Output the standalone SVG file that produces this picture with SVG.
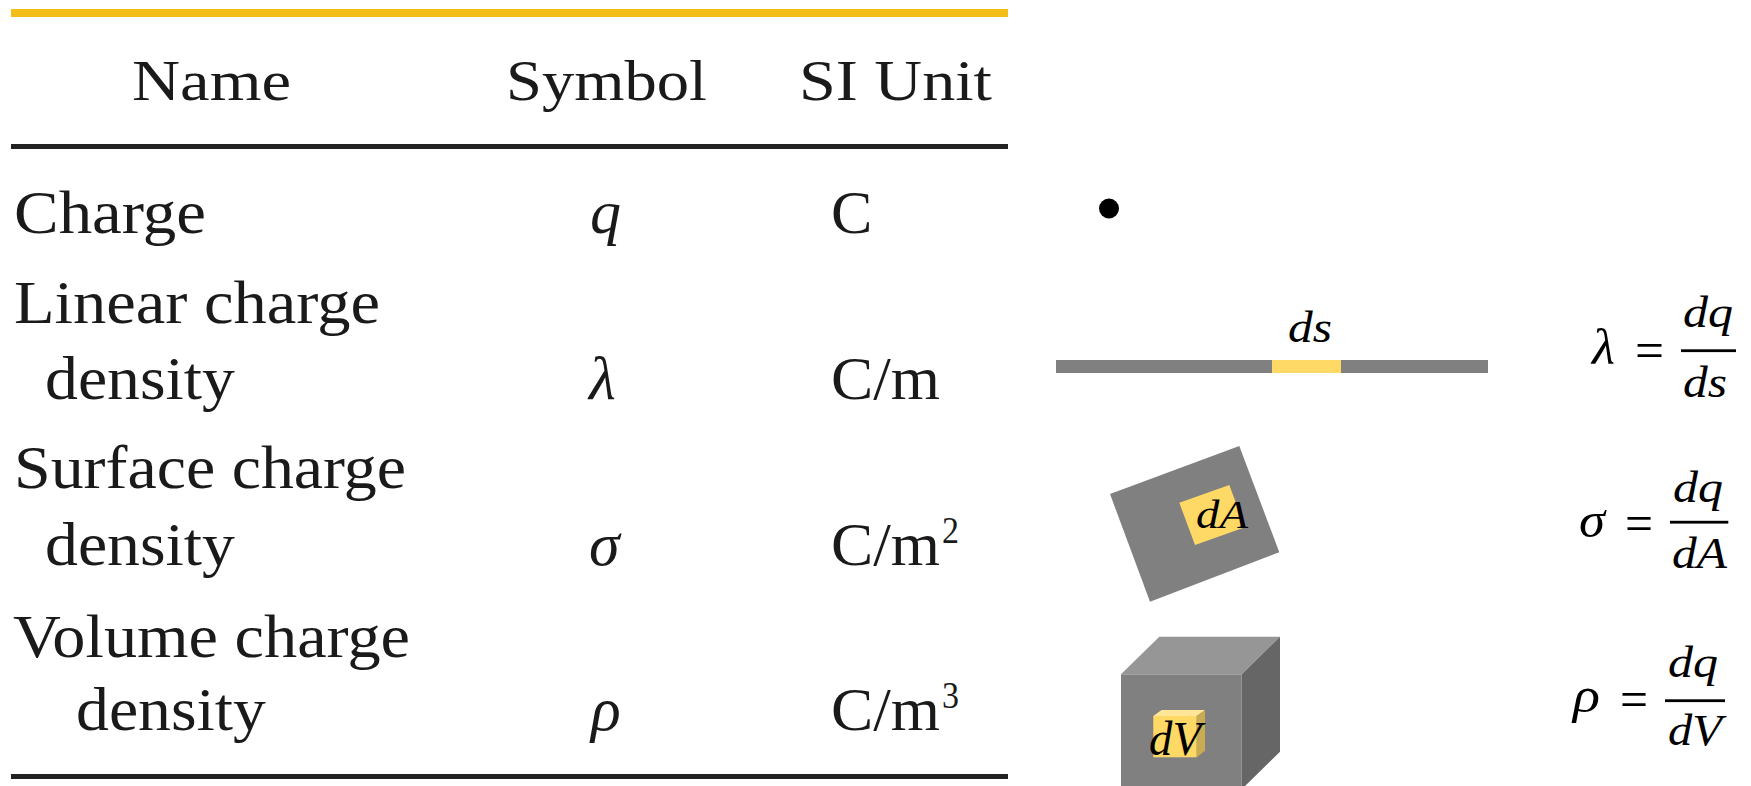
<svg xmlns="http://www.w3.org/2000/svg" width="1751" height="786" viewBox="0 0 1751 786">
  <style>
    .t { font-family: "Liberation Serif", "Times New Roman", serif; font-size: 62px; fill: #1a1a1a; }
    .h { font-family: "Liberation Serif", "Times New Roman", serif; font-size: 58px; fill: #1a1a1a; }
    .ti { font-family: "Liberation Serif", "Times New Roman", serif; font-size: 62px; font-style: italic; fill: #1a1a1a; }
    .sup { font-family: "Liberation Serif", "Times New Roman", serif; font-size: 38px; fill: #1a1a1a; }
    .m { font-family: "Liberation Serif", "Times New Roman", serif; font-size: 45px; font-style: italic; fill: #000; }
    .g { font-family: "Liberation Serif", "Times New Roman", serif; font-size: 50px; font-style: italic; fill: #000; }
    .eq { font-family: "Liberation Serif", "Times New Roman", serif; font-size: 52px; fill: #000; }
    .gray { fill: #808080; }
    .yel { fill: #FFD966; }
  </style>
  <rect width="1751" height="786" fill="#ffffff"/>

  <g id="table">
    <rect x="11" y="9" width="997" height="8" fill="#F3BE19"/>
    <text class="h" x="132" y="100" textLength="159" lengthAdjust="spacingAndGlyphs">Name</text>
    <text class="h" x="506" y="100" textLength="201" lengthAdjust="spacingAndGlyphs">Symbol</text>
    <text class="h" x="799" y="100" textLength="193" lengthAdjust="spacingAndGlyphs">SI Unit</text>
    <rect x="11" y="144" width="997" height="5" fill="#222222"/>

    <text class="t" x="14" y="233" textLength="192" lengthAdjust="spacingAndGlyphs">Charge</text>
    <text class="ti" x="590" y="233">q</text>
    <text class="t" x="831" y="233">C</text>

    <text class="t" x="14" y="323" textLength="366" lengthAdjust="spacingAndGlyphs">Linear charge</text>
    <text class="t" x="45" y="399" textLength="190" lengthAdjust="spacingAndGlyphs">density</text>
    <text class="ti" x="589" y="399">λ</text>
    <text class="t" x="831" y="399" textLength="109" lengthAdjust="spacingAndGlyphs">C/m</text>

    <text class="t" x="14" y="488" textLength="392" lengthAdjust="spacingAndGlyphs">Surface charge</text>
    <text class="t" x="45" y="565" textLength="190" lengthAdjust="spacingAndGlyphs">density</text>
    <text class="ti" x="589" y="565">σ</text>
    <text class="t" x="831" y="565" textLength="109" lengthAdjust="spacingAndGlyphs">C/m</text>
    <text class="sup" x="942" y="543" textLength="17" lengthAdjust="spacingAndGlyphs">2</text>

    <text class="t" x="13" y="657" textLength="397" lengthAdjust="spacingAndGlyphs">Volume charge</text>
    <text class="t" x="76" y="730" textLength="190" lengthAdjust="spacingAndGlyphs">density</text>
    <text class="ti" x="591" y="730">ρ</text>
    <text class="t" x="831" y="730" textLength="109" lengthAdjust="spacingAndGlyphs">C/m</text>
    <text class="sup" x="942" y="708" textLength="17" lengthAdjust="spacingAndGlyphs">3</text>
    <rect x="11" y="774" width="997" height="5" fill="#222222"/>
  </g>

  <g id="point-charge">
    <circle cx="1109" cy="208.5" r="10" fill="#000"/>
  </g>

  <g id="line-charge">
    <rect class="gray" x="1056" y="360" width="432" height="13"/>
    <rect class="yel" x="1272" y="360" width="69" height="13"/>
    <text class="m" x="1288" y="342" textLength="44" lengthAdjust="spacingAndGlyphs">ds</text>
  </g>

  <g id="surface-charge">
    <polygon class="gray" points="1110,494 1239.3,446 1279.3,552.3 1150,601.7"/>
    <polygon class="yel" points="1179.3,502.7 1229.3,485 1245,527.3 1195,545"/>
    <text class="m" x="1196" y="528" style="font-size:40px" textLength="52" lengthAdjust="spacingAndGlyphs">dA</text>
  </g>

  <g id="volume-charge">
    <rect class="gray" x="1121" y="674.3" width="120.7" height="115"/>
    <polygon points="1121,674.3 1159.3,636.7 1280,636.7 1241.7,674.3" fill="#969696"/>
    <polygon points="1241.7,674.3 1280,636.7 1280,751.7 1241.7,789.3" fill="#666666"/>
    <rect class="yel" x="1153.3" y="716" width="43.4" height="41.3"/>
    <polygon points="1153.3,716 1161.6,710 1205,710 1196.7,716" fill="#FFE699"/>
    <polygon points="1196.7,716 1205,710 1205,750.7 1196.7,757.3" fill="#C9AB52"/>
    <text class="m" x="1149" y="755" style="font-size:48px" textLength="52" lengthAdjust="spacingAndGlyphs">dV</text>
  </g>

  <g id="formula-lambda">
    <text class="g" x="1592" y="364" textLength="23" lengthAdjust="spacingAndGlyphs">λ</text>
    <text class="eq" x="1635" y="368" textLength="29" lengthAdjust="spacingAndGlyphs">=</text>
    <text class="m" x="1683" y="327" textLength="50" lengthAdjust="spacingAndGlyphs">dq</text>
    <rect x="1681" y="349.3" width="55" height="2.8" fill="#000"/>
    <text class="m" x="1683" y="397" textLength="44" lengthAdjust="spacingAndGlyphs">ds</text>
  </g>

  <g id="formula-sigma">
    <text class="g" x="1579" y="537" textLength="26" lengthAdjust="spacingAndGlyphs">σ</text>
    <text class="eq" x="1625" y="541" textLength="28" lengthAdjust="spacingAndGlyphs">=</text>
    <text class="m" x="1673" y="502" textLength="50" lengthAdjust="spacingAndGlyphs">dq</text>
    <rect x="1670" y="520.8" width="58.3" height="2.8" fill="#000"/>
    <text class="m" x="1672" y="568" textLength="55" lengthAdjust="spacingAndGlyphs">dA</text>
  </g>

  <g id="formula-rho">
    <text class="g" x="1573" y="712" textLength="27" lengthAdjust="spacingAndGlyphs">ρ</text>
    <text class="eq" x="1620" y="717" textLength="28" lengthAdjust="spacingAndGlyphs">=</text>
    <text class="m" x="1668" y="677" textLength="50" lengthAdjust="spacingAndGlyphs">dq</text>
    <rect x="1665" y="699.3" width="60" height="2.8" fill="#000"/>
    <text class="m" x="1668" y="745" textLength="54" lengthAdjust="spacingAndGlyphs">dV</text>
  </g>
</svg>
